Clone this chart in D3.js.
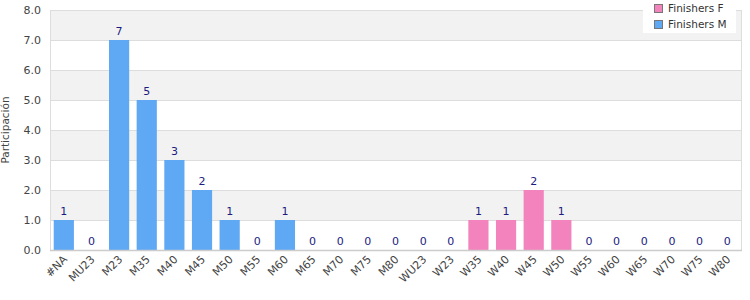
<!DOCTYPE html>
<html><head><meta charset="utf-8">
<script src="https://cdn.jsdelivr.net/npm/d3@7"></script>
<style>body{margin:0;background:#fff;}svg{display:block;font-family:"DejaVu Sans",sans-serif;}</style>
</head><body>
<svg id="c" width="750" height="300"></svg>
<script>
const categories = ["#NA","MU23","M23","M35","M40","M45","M50","M55","M60","M65","M70","M75","M80","WU23","W23","W35","W40","W45","W50","W55","W60","W65","W70","W75","W80"];
const finishersM = [1,0,7,5,3,2,1,0,1,0,0,0,0,0,0,0,0,0,0,0,0,0,0,0,0];
const finishersF = [0,0,0,0,0,0,0,0,0,0,0,0,0,0,0,1,1,2,1,0,0,0,0,0,0];
const yTicks = [0,1,2,3,4,5,6,7,8];
const seriesNames = ["Finishers F","Finishers M"];
const colors = {"Finishers F":"#f283bd","Finishers M":"#5fa8f4"};

const svg = d3.select("#c");
const L=50,R=741,T=10,B=250;
const x = d3.scaleBand().domain(categories).range([L,R]).paddingInner(0.27).paddingOuter(0.135);
const y = d3.scaleLinear().domain([0,8]).range([B,T]);

for(let i=0;i<8;i++){
  if(i%2===1){
    svg.append("rect").attr("x",L).attr("y",y(i+1)).attr("width",R-L).attr("height",y(i)-y(i+1)).attr("fill","#f2f2f2");
  }
}
svg.append("g").selectAll("line").data(yTicks).join("line")
  .attr("x1",L).attr("x2",R).attr("y1",d=>y(d)+0.5).attr("y2",d=>y(d)+0.5)
  .attr("stroke","#dddddd");
svg.append("line").attr("x1",L+0.5).attr("x2",L+0.5).attr("y1",T).attr("y2",B).attr("stroke","#dddddd");
svg.append("line").attr("x1",R+0.5).attr("x2",R+0.5).attr("y1",T).attr("y2",B).attr("stroke","#dddddd");

const data = categories.map((c,i)=>({c, M:finishersM[i], F:finishersF[i]}));
const stack = d3.stack().keys(["M","F"])(data);
const keyName = {M:"Finishers M",F:"Finishers F"};
stack.forEach(s=>{
  svg.append("g").selectAll("rect").data(s).join("rect")
    .attr("x",d=>x(d.data.c)).attr("width",x.bandwidth())
    .attr("y",d=>y(d[1])).attr("height",d=>y(d[0])-y(d[1]))
    .attr("fill",colors[keyName[s.key]]);
});
svg.append("line").attr("x1",L).attr("x2",R+1).attr("y1",B+0.5).attr("y2",B+0.5).attr("stroke","#cccccc").attr("stroke-width",1.5);

svg.append("g").selectAll("text").data(data).join("text")
  .attr("x",d=>x(d.c)+x.bandwidth()/2).attr("y",d=>y(d.M+d.F)-5)
  .attr("text-anchor","middle").attr("font-size",11).attr("fill","#1c1c80")
  .text(d=>d.M+d.F);

svg.append("g").selectAll("text").data(yTicks).join("text")
  .attr("x",41).attr("y",d=>y(d)+4).attr("text-anchor","end")
  .attr("font-size",11).attr("fill","#444").text(d=>d.toFixed(1));

svg.append("g").selectAll("text").data(categories).join("text")
  .attr("text-anchor","end").attr("font-size",11).attr("fill","#444")
  .attr("transform",d=>`translate(${x(d)+x.bandwidth()/2+4},${B+10}) rotate(-45)`)
  .text(d=>d);

svg.append("text").attr("transform",`translate(9,${(T+B)/2}) rotate(-90)`)
  .attr("text-anchor","middle").attr("font-size",10.5).attr("fill","#444").text("Participación");

const lg = svg.append("g");
lg.append("rect").attr("x",643).attr("y",0).attr("width",93).attr("height",33).attr("fill","#fff");
seriesNames.forEach((n,i)=>{
  lg.append("rect").attr("x",654.5).attr("y",4.5+i*16).attr("width",8).attr("height",8)
    .attr("fill",colors[n]).attr("stroke","#777");
  lg.append("text").attr("x",668).attr("y",12+i*16).attr("font-size",10.5).attr("fill","#333").text(n);
});
</script>
</body></html>
